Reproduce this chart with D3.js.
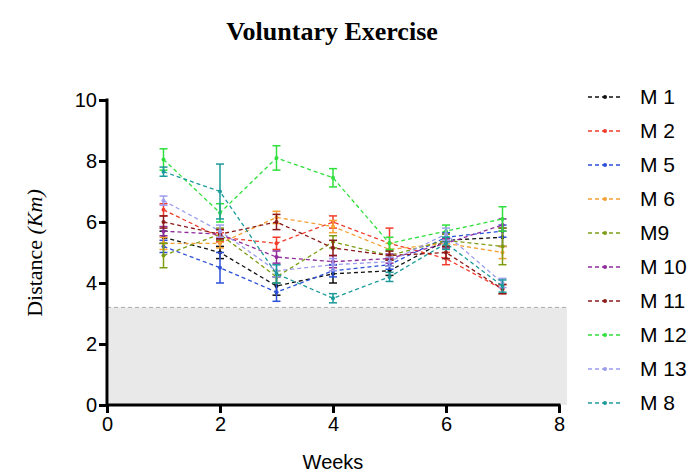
<!DOCTYPE html>
<html><head><meta charset="utf-8">
<script src="https://cdn.jsdelivr.net/npm/d3@7"></script>
<style>body{margin:0;background:#fff}</style>
</head><body>
<svg id="c" width="696" height="474"></svg>
<script>
const weeks = [1,2,3,4,5,6,7];
const seriesNames = ["M 1","M 2","M 5","M 6","M9","M 10","M 11","M 12","M 13","M 8"];
const colors = ["#111111","#f23b2b","#2b4fd8","#f5a033","#7c9c12","#8e2c9c","#8b1a1a","#2fe03c","#9c9cee","#1c9a9a"];
const m1  = [5.5, 5.0, 3.9, 4.3, 4.4, 5.4, 5.5];
const m2  = [6.4, 5.5, 5.3, 6.0, 5.3, 4.8, 3.8];
const m5  = [5.2, 4.5, 3.7, 4.4, 4.6, 5.5, 5.7];
const m6  = [5.3, 5.3, 6.15, 5.85, 5.1, 5.3, 5.0];
const m9  = [4.9, 5.6, 4.2, 5.35, 4.9, 5.4, 5.2];
const m10 = [5.7, 5.6, 4.85, 4.7, 4.8, 5.3, 5.9];
const m11 = [6.0, 5.6, 6.0, 5.15, 4.9, 5.0, 3.8];
const m12 = [8.05, 6.3, 8.1, 7.45, 5.3, 5.7, 6.1];
const m13 = [6.7, 5.7, 4.4, 4.6, 4.7, 5.6, 4.0];
const m8  = [7.65, 7.0, 4.3, 3.5, 4.2, 5.3, 3.9];
const e1  = [0.2, 0.2, 0.3, 0.3, 0.15, 0.2, 0.3];
const e2  = [0.2, 0.15, 0.2, 0.2, 0.5, 0.2, 0.15];
const e5  = [0.2, 0.5, 0.3, 0.2, 0.15, 0.15, 0.2];
const e6  = [0.2, 0.15, 0.2, 0.2, 0.2, 0.15, 0.2];
const e9  = [0.4, 0.2, 0.2, 0.2, 0.15, 0.2, 0.6];
const e10 = [0.15, 0.15, 0.2, 0.2, 0.15, 0.15, 0.2];
const e11 = [0.2, 0.15, 0.25, 0.25, 0.15, 0.2, 0.15];
const e12 = [0.35, 0.3, 0.4, 0.3, 0.2, 0.2, 0.4];
const e13 = [0.15, 0.2, 0.2, 0.2, 0.15, 0.2, 0.15];
const e8  = [0.15, 0.9, 0.3, 0.15, 0.15, 0.2, 0.2];
const allValues = [m1,m2,m5,m6,m9,m10,m11,m12,m13,m8];
const allErrors = [e1,e2,e5,e6,e9,e10,e11,e12,e13,e8];
const xTicks = [0,2,4,6,8];
const yTicks = [0,2,4,6,8,10];
const threshold = 3.2;

const svg = d3.select("#c");
const x = d3.scaleLinear().domain([0,8]).range([107,559]);
const y = d3.scaleLinear().domain([0,10]).range([405,100]);

// shaded band
svg.append("rect").attr("x", x(0)+2).attr("y", y(threshold)).attr("width", 567-(x(0)+2)).attr("height", y(0)-y(threshold)).attr("fill","#e9e9e9");
svg.append("line").attr("x1", x(0)).attr("x2", 567).attr("y1", y(threshold)).attr("y2", y(threshold))
  .attr("stroke","#aaaaaa").attr("stroke-width",1).attr("stroke-dasharray","4,3");

// series
const line = d3.line().x((d,i)=>x(weeks[i])).y(d=>y(d));
allValues.forEach((vals, s) => {
  const g = svg.append("g");
  const col = colors[s];
  g.append("path").attr("d", line(vals)).attr("fill","none").attr("stroke",col).attr("stroke-width",1.3).attr("stroke-dasharray","4,3");
  vals.forEach((v,i)=>{
    const e = allErrors[s][i];
    const cx = x(weeks[i]);
    g.append("line").attr("x1",cx).attr("x2",cx).attr("y1",y(v+e)).attr("y2",y(v-e)).attr("stroke",col).attr("stroke-width",1.5);
    [v+e, v-e].forEach(b=>g.append("line").attr("x1",cx-4).attr("x2",cx+4).attr("y1",y(b)).attr("y2",y(b)).attr("stroke",col).attr("stroke-width",1.5));
    g.append("circle").attr("cx",cx).attr("cy",y(v)).attr("r",2).attr("fill",col);
  });
});

// axes
const xAxis = svg.append("g").attr("transform",`translate(0,${y(0)})`)
  .call(d3.axisBottom(x).tickValues(xTicks).tickSize(8).tickPadding(4).tickFormat(d3.format("d")));
const yAxis = svg.append("g").attr("transform",`translate(${x(0)},0)`)
  .call(d3.axisLeft(y).tickValues(yTicks).tickSize(8).tickPadding(2).tickFormat(d3.format("d")));
[xAxis,yAxis].forEach(a=>{
  a.select(".domain").attr("stroke","#000").attr("stroke-width",3);
  a.selectAll(".tick line").attr("stroke","#000").attr("stroke-width",3);
  a.selectAll(".tick text").attr("font-family","Liberation Sans, Arial, sans-serif").attr("font-size",20).attr("fill","#000");
});
xAxis.select(".domain").attr("d", `M${x(0)},0H${x(8)+1.5}`);
yAxis.select(".domain").attr("d", `M0,${y(10)-1.5}V${y(0)+1.5}`);

// title
svg.append("text").attr("x",332).attr("y",40).attr("text-anchor","middle")
  .attr("font-family","Liberation Serif, Times New Roman, serif").attr("font-weight","bold").attr("font-size",26).text("Voluntary Exercise");

// y label
const yl = svg.append("text").attr("transform","translate(42,253) rotate(-90)").attr("text-anchor","middle")
  .attr("font-family","Liberation Serif, Times New Roman, serif").attr("font-size",22);
yl.append("tspan").text("Distance ");
yl.append("tspan").attr("font-style","italic").text("(Km)");

// x label
svg.append("text").attr("x",333).attr("y",469).attr("text-anchor","middle")
  .attr("font-family","Liberation Sans, Arial, sans-serif").attr("font-size",20).text("Weeks");

// legend
seriesNames.forEach((name,i)=>{
  const ly = 97 + i*34;
  const g = svg.append("g");
  g.append("line").attr("x1",588).attr("x2",622).attr("y1",ly).attr("y2",ly).attr("stroke",colors[i]).attr("stroke-width",1.3).attr("stroke-dasharray","4,3");
  g.append("circle").attr("cx",605).attr("cy",ly).attr("r",2).attr("fill",colors[i]);
  g.append("text").attr("x",640).attr("y",ly+7).attr("font-family","Liberation Sans, Arial, sans-serif").attr("font-size",21).text(name);
});
</script>
</body></html>
